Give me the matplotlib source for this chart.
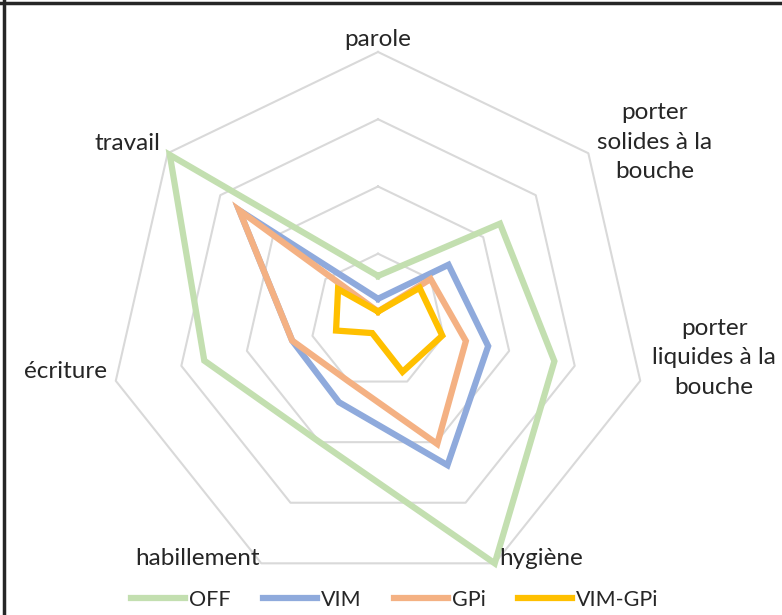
import numpy as np
import matplotlib.pyplot as plt
from matplotlib.lines import Line2D

plt.rcParams['font.family'] = ['Lato', 'DejaVu Sans']

# Axes of the radar, clockwise from the top
categories = ['parole', 'porter\nsolides à la\nbouche', 'porter\nliquides à la\nbouche',
              'hygiène', 'habillement', 'écriture', 'travail']

# Series values (rings at 1, 2, 3, 4)
off_vals = [0.67, 2.32, 2.69, 4.0, 2.0, 2.65, 3.96]
vim_vals = [0.33, 1.34, 1.68, 2.38, 1.34, 1.31, 2.64]
gpi_vals = [0.14, 1.0, 1.34, 2.03, 1.0, 1.31, 2.64]
vimgpi_vals = [0.14, 0.79, 0.98, 0.84, 0.2, 0.64, 0.76]

series_names = ['OFF', 'VIM', 'GPi', 'VIM-GPi']
series_vals = [off_vals, vim_vals, gpi_vals, vimgpi_vals]
colors = ['#C3DFB0', '#8FAADC', '#F4B183', '#FFC000']
rings = [1, 2, 3, 4]

# label placement: (ha, va, dx, dy) in pixels from the outer vertex
label_style = [
    ('center', 'bottom', 0, 2),
    ('left', 'center', 9, 11),
    ('left', 'center', 12, 23),
    ('left', 'center', 5, 5),
    ('right', 'center', -2, 5),
    ('right', 'center', -9, 9),
    ('right', 'center', -7, 10),
]

n = len(categories)
theta = np.linspace(0, 2 * np.pi, n, endpoint=False)
theta_closed = np.append(theta, theta[0])

fig = plt.figure(figsize=(7.82, 6.15), dpi=100)
ax = fig.add_axes([0.1394, 0.0407, 0.688, 0.8748], projection='polar')
ax.set_theta_offset(np.pi / 2)
ax.set_theta_direction(-1)
ax.set_ylim(0, 4)
ax.grid(False)
ax.spines['polar'].set_visible(False)
ax.set_xticks([])
ax.set_yticks([])
ax.patch.set_alpha(0)

# heptagon grid
for r in rings:
    ax.plot(theta_closed, [r] * (n + 1), color='#D9D9D9', lw=1.5, clip_on=False, zorder=1)

# series
for name, vals, c in zip(series_names, series_vals, colors):
    v = list(vals) + [vals[0]]
    ax.plot(theta_closed, v, color=c, lw=4.5, label=name, clip_on=False,
            solid_joinstyle='miter', zorder=2)

# category labels
for t, cat, (ha, va, dx, dy) in zip(theta, categories, label_style):
    ax.annotate(cat, xy=(t, 4), xytext=(dx, dy), textcoords='offset pixels',
                ha=ha, va=va, multialignment='center', fontsize=17.5,
                color='#262626', linespacing=1.5)

fig.legend(loc='center', bbox_to_anchor=(0.505, 0.0244), ncol=4, frameon=False,
           fontsize=15.5, handlelength=2.5, handletextpad=0.2, columnspacing=1.5,
           labelcolor='#262626')

# border lines at top and left
fig.add_artist(Line2D([0, 1], [1 - 2.5 / 615, 1 - 2.5 / 615], color='#262626', lw=2.5,
                      transform=fig.transFigure))
fig.add_artist(Line2D([4 / 782, 4 / 782], [0, 1], color='#262626', lw=2.5,
                      transform=fig.transFigure))

fig.savefig('out.png', dpi=100)
